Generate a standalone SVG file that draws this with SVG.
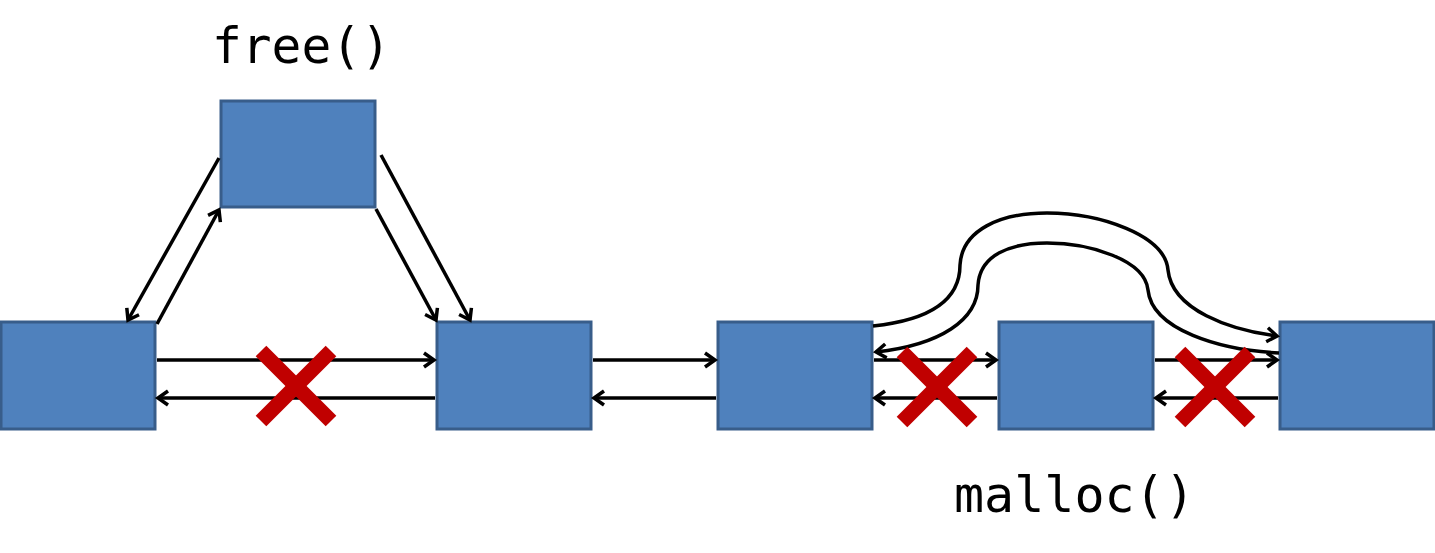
<svg xmlns="http://www.w3.org/2000/svg" width="1435" height="553" viewBox="0 0 1435 553">
<style>
.node{fill:#4F81BD;stroke:#385D8A;stroke-width:3}
.c{fill:none;stroke:#000;stroke-width:3.5}
.x{stroke:#C00000;stroke-width:15;stroke-linecap:butt}
.lbl{font-family:"DejaVu Sans Mono",monospace;fill:#000}
</style>
<defs>
<marker id="ah" markerUnits="userSpaceOnUse" markerWidth="24" markerHeight="24" viewBox="-14 -12 16 24" refX="0" refY="0" orient="auto-start-reverse">
<path d="M-10,-7 L0,0 L-10,7" fill="none" stroke="#000" stroke-width="3.5" stroke-linejoin="miter"/>
</marker>
</defs>
<rect width="1435" height="553" fill="#fff"/>
<text class="lbl" x="212" y="63" font-size="49.5">free()</text>
<text class="lbl" x="954" y="512" font-size="50">malloc()</text>
<g id="n-top"><rect class="node" x="221" y="101" width="154" height="106"/></g>
<g id="n-a"><rect class="node" x="1" y="322" width="154" height="107"/></g>
<g id="n-b"><rect class="node" x="437" y="322" width="154" height="107"/></g>
<g id="n-c"><rect class="node" x="718" y="322" width="154" height="107"/></g>
<g id="n-d"><rect class="node" x="999" y="322" width="154" height="107"/></g>
<g id="n-e"><rect class="node" x="1280" y="322" width="154" height="107"/></g>
<g id="connectors">
<line class="c" x1="157" y1="360" x2="434" y2="360" marker-end="url(#ah)"/>
<line class="c" x1="435" y1="398" x2="158" y2="398" marker-end="url(#ah)"/>
<line class="c" x1="593" y1="360" x2="715" y2="360" marker-end="url(#ah)"/>
<line class="c" x1="716" y1="398" x2="594" y2="398" marker-end="url(#ah)"/>
<line class="c" x1="874" y1="360" x2="996" y2="360" marker-end="url(#ah)"/>
<line class="c" x1="997" y1="398" x2="875" y2="398" marker-end="url(#ah)"/>
<line class="c" x1="1155" y1="360" x2="1277" y2="360" marker-end="url(#ah)"/>
<line class="c" x1="1278" y1="398" x2="1156" y2="398" marker-end="url(#ah)"/>
<line class="c" x1="157" y1="324" x2="219" y2="210" marker-end="url(#ah)"/>
<line class="c" x1="219" y1="158" x2="128" y2="320" marker-end="url(#ah)"/>
<line class="c" x1="376" y1="209" x2="436" y2="320" marker-end="url(#ah)"/>
<line class="c" x1="381" y1="155" x2="470" y2="320" marker-end="url(#ah)"/>
<path class="c" d="M873,326 C930,320 960,300 960,265 C962,230 1000,213 1047,213 C1100,213 1165,235 1168,270 C1172,310 1230,330 1277,336" marker-end="url(#ah)"/>
<path class="c" d="M1279,353 C1220,350 1152,330 1148,290 C1145,260 1090,243 1047,243 C1010,243 980,255 978,285 C978,320 940,345 876,352" marker-end="url(#ah)"/>
</g>
<g id="crosses">
<line class="x" x1="261" y1="351" x2="331" y2="421"/>
<line class="x" x1="331" y1="351" x2="261" y2="421"/>
<line class="x" x1="902" y1="352" x2="972" y2="422"/>
<line class="x" x1="972" y1="352" x2="902" y2="422"/>
<line class="x" x1="1180" y1="352" x2="1250" y2="422"/>
<line class="x" x1="1250" y1="352" x2="1180" y2="422"/>
</g>
</svg>
